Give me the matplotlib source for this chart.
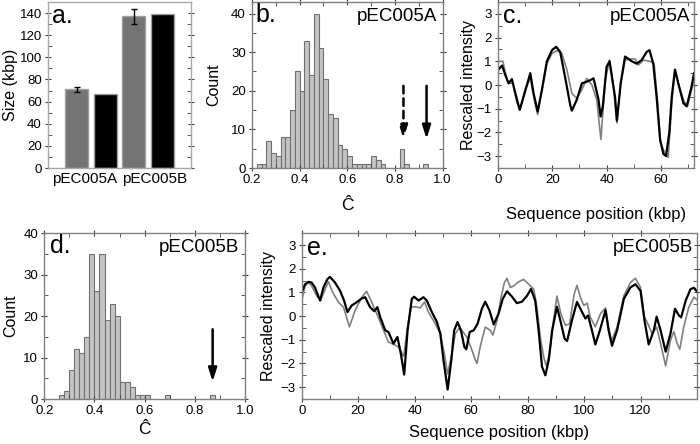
import matplotlib
matplotlib.use('Agg')
import matplotlib.pyplot as plt
from matplotlib.ticker import MultipleLocator

plt.rcParams['font.family'] = ['Liberation Sans', 'DejaVu Sans']

# panel a: plasmid sizes
plasmids = ['pEC005A', 'pEC005B']
size_measured = [71, 137]
size_err = [2, 7]
size_sequence = [67, 139]

# panel b: histogram of C-hat for pEC005A (bin centres, counts)
b_centres = [0.23, 0.25, 0.27, 0.29, 0.31, 0.33, 0.35, 0.37, 0.39, 0.41, 0.43, 0.45,
             0.47, 0.49, 0.51, 0.53, 0.55, 0.57, 0.59, 0.61, 0.63, 0.65, 0.67, 0.69,
             0.71, 0.73, 0.75, 0.83, 0.85, 0.93]
b_counts = [1, 1, 7, 4, 3, 8, 8, 15, 25, 20, 33, 24,
            40, 31, 23, 14, 13, 6, 5, 3, 1, 1, 1, 1,
            3, 2, 1, 5, 1, 1]

# panel d: histogram of C-hat for pEC005B
d_centres = [0.27, 0.29, 0.31, 0.33, 0.35, 0.37, 0.39, 0.41, 0.43, 0.45, 0.47, 0.49,
             0.51, 0.53, 0.55, 0.57, 0.59, 0.61, 0.69, 0.87]
d_counts = [1, 2, 7, 12, 11, 15, 35, 26, 35, 19, 23, 20,
            4, 4, 3, 1, 1, 1, 1, 1]

# panel c: profiles pEC005A
c_black_x = [0, 1.5, 2.7, 3.9, 5.1, 6.4, 8, 9.4, 11.9, 13.1, 14.6, 16.2, 18, 19.9, 21.4,
             22.9, 24.8, 26.6, 27.2, 29, 30.9, 32.7, 33.9, 35.2, 37, 37.8, 38.6, 40, 41.1,
             43.1, 43.8, 45.2, 46.8, 49.3, 51.1, 52.9, 54.8, 55.8, 57.2, 58.5, 59.7, 60.9,
             61.9, 63.1, 64, 65.2, 66.4, 68.3, 69.5, 71.3, 72.2]
c_black_y = [0.63, 0.82, 0.42, 0.07, 0.25, -0.35, -1.05, -0.5, 0.5, -0.35, -1.12, -0.2,
             1.0, 1.47, 1.61, 1.4, 0.28, -0.84, -1.08, -0.63, 0.07, 0.14, 0.2, 0.28, -0.6,
             -1.33, -0.9, 0.77, 1.0, -0.5, -1.5, 0.07, 1.2, 1.0, 0.9, 1.05, 1.4, 1.47, 0.9,
             -0.6, -2.3, -2.9, -3.0, -2.0, -0.5, 0.65, 0.07, -0.77, -0.9, -0.07, 0.5]
c_gray_x = [0, 1.8, 3.3, 4.3, 5.5, 7, 8.2, 10, 11.9, 13.4, 14.6, 16.2, 18, 19.9, 21.7,
            23.5, 25.4, 27.2, 29, 30.9, 32.7, 34.6, 36.4, 37.9, 39.5, 41.1, 42.5, 43.8,
            45.2, 46.8, 48.7, 50.5, 51.7, 53.6, 56, 57.5, 58.7, 59.9, 61.5, 62.7, 64,
            65.2, 66.4, 68.3, 69.8, 71.3, 72.2]
c_gray_y = [1.0, 1.0, 0.2, 0.07, 0.07, -0.77, -1.0, -0.2, 0.28, -0.63, -1.25, -0.15,
            0.9, 1.33, 1.45, 1.33, 0.63, -0.35, -0.56, -0.2, 0.28, 0.0, -0.63, -2.3,
            0.2, 1.05, -0.07, -1.6, 0.07, 1.05, 1.1, 1.1, 0.84, 1.05, 1.0, 0.9, -0.6,
            -2.45, -2.87, -3.05, -0.77, 0.63, 0.07, -0.63, -0.9, -0.2, 0.2]

# panel e: profiles pEC005B
e_black_x = [0, 1.2, 2.4, 3.5, 4.7, 6.5, 7.7, 9.1, 10, 11.8, 13.6, 15, 16.2, 17.7, 19.5,
             21.3, 22.5, 24.2, 25.7, 26.8, 27.8, 29.6, 30.7, 32.5, 33.9, 35.1, 36.3, 37.5,
             39, 39.8, 41.4, 43.1, 44.3, 46.1, 47.9, 49.1, 50.2, 51.7, 53, 54, 55.2, 56.4,
             57.6, 58.3, 59.5, 60.9, 62.3, 63.8, 65, 66.5, 68, 69.7, 71.2, 72.7, 74.5,
             76.2, 78, 79.8, 81.2, 82.7, 83.9, 85.1, 86.3, 87.5, 88.7, 90.4, 91.6, 93.1,
             94, 95.7, 97.5, 99.3, 100.5, 101.4, 102.8, 104, 105.6, 107.6, 108.7, 109.9,
             111.7, 114.1, 116.4, 118.2, 120, 121.4, 122.9, 124.7, 125.7, 127.1, 128.9,
             130.6, 132.2, 133.6, 134.4, 136, 137.7, 138.9, 140.3]
e_black_y = [1.0, 1.35, 1.45, 1.42, 1.21, 0.66, 1.21, 1.56, 1.66, 1.42, 1.07, 0.66,
             0.17, 0.45, 0.59, 0.75, 0.8, 0.38, 0.21, 0.38, -0.04, -0.6, -0.67, -1.16,
             -0.88, -1.58, -2.47, -0.6, 0.73, 0.82, 0.66, 0.8, 0.66, 0.17, -0.25, -0.74,
             -1.85, -3.1, -1.85, -0.6, -0.25, -0.6, -1.3, -1.4, -0.67, -0.6, -0.32, 0.31,
             0.61, 0.24, -0.35, 0.1, 0.73, 1.05, 0.82, 0.55, 0.61, 0.86, 1.15, 0.66, -0.6,
             -2.13, -2.5, -1.85, -0.6, 0.4, -0.18, -0.95, -1.05, -0.18, 0.6, 0.17, -0.1,
             0.03, -0.6, -1.2, -0.6, 0.25, -0.6, -1.25, -0.6, 0.73, 1.21, 1.35, 1.07,
             -0.18, -1.2, -0.6, -0.02, -0.6, -1.5, -0.74, 0.31, 0.03, -0.05, 0.66, 1.14,
             1.2, 1.0]
e_gray_x = [0, 1.2, 2.4, 3.5, 5.3, 6.7, 8.3, 9.5, 11, 13, 14.8, 16.9, 18.9, 21.3, 23,
            24.8, 26.6, 29, 30.7, 32.5, 34.3, 36.1, 37.5, 38.7, 40.2, 42, 43.5, 44.9,
            47.3, 49.1, 50.5, 51.7, 53.2, 54.4, 55.6, 56.7, 58.5, 60.3, 61.5, 62.1, 63.2,
            65, 66.8, 67.7, 69.2, 70.6, 71.8, 72.7, 73.9, 75.1, 76.8, 78.6, 80.4, 82.2,
            83.3, 84.5, 85.7, 86.6, 87.8, 89.2, 90.4, 91.8, 93.4, 94.9, 96.5, 97.5, 98.7,
            99.9, 101.1, 102.2, 104, 105.8, 107.6, 108.7, 109.7, 111.7, 114.1, 116.4,
            118.2, 120, 121.4, 122.6, 124.1, 125.7, 127.1, 128.9, 130.6, 131.8, 133,
            133.9, 135.3, 137.1, 138.9, 140.3]
e_gray_y = [0.66, 1.28, 1.42, 1.28, 0.86, 0.66, 1.14, 1.45, 1.0, 0.59, 0.38, -0.45,
            0.24, 0.8, 1.05, 0.59, 0.1, -0.6, -1.09, -1.19, -1.3, -1.7, -0.46, 0.38, 0.4,
            0.35, 0.6, 0.17, -0.32, -0.74, -1.58, -2.45, -1.58, -0.74, -0.53, -0.6,
            -0.88, -1.44, -1.85, -2.0, -1.3, -0.46, -0.6, -0.8, -0.18, 0.8, 1.42, 1.6,
            1.21, 1.28, 1.45, 1.55, 1.35, 1.14, 0.38, -0.88, -1.72, -2.1, -1.58, -0.18,
            0.85, 0.1, -0.39, -0.32, 0.93, 1.3, 0.8, 0.45, 0.55, -0.04, -0.45, 0.1, 0.35,
            -0.46, -1.05, -0.46, 0.86, 1.42, 1.6, 1.21, -0.04, -0.32, -0.74, -0.46, -1.16,
            -2.1, -1.02, -0.65, -1.16, -1.4, -0.46, 0.38, 0.8, 0.66]

W, H = 700, 444
TICK = 9.5
LAB = 11.5
PANEL = 18
NAME = 13.5


def box(l, r, t, b):
    return [l / W, 1 - b / H, (r - l) / W, (b - t) / H]


def style(ax, spine='#808080'):
    for s in ax.spines.values():
        s.set_color(spine)
        s.set_linewidth(1.0)
    ax.tick_params(which='both', top=True, right=True, labelsize=TICK, color='#404040', pad=2)
    ax.tick_params(which='major', direction='inout', length=5)
    ax.tick_params(which='minor', direction='in', length=3)


def place_labels(ax, w, h, ylab_dx, xlab_dy=None):
    # offsets in pixels from the axes edges
    ax.yaxis.set_label_coords(-ylab_dx / w, 0.5)
    if xlab_dy is not None:
        ax.xaxis.set_label_coords(0.5, -xlab_dy / h)


fig = plt.figure(figsize=(7, 4.44), dpi=100)

# a
ax = fig.add_axes(box(48, 191, 2, 168))
pos = [1, 3]
ax.bar(pos, size_measured, width=0.8, color='#747474', edgecolor='#a0a0a0',
       yerr=size_err, capsize=2, error_kw={'elinewidth': 1, 'ecolor': 'black'})
ax.bar([p + 1 for p in pos], size_sequence, width=0.8, color='black', edgecolor='#a0a0a0')
ax.set_xlim(0, 5)
ax.set_ylim(0, 150)
ax.set_xticks([1.28, 3.72])
ax.set_xticklabels(plasmids)
ax.yaxis.set_major_locator(MultipleLocator(20))
ax.yaxis.set_minor_locator(MultipleLocator(10))
style(ax, '#a8a8a8')
ax.tick_params(axis='x', length=0, pad=3, labelsize=11)
ax.set_ylabel('Size (kbp)', fontsize=LAB)
place_labels(ax, 143, 166, 30)
ax.text(0.03, 0.985, 'a.', transform=ax.transAxes, fontsize=PANEL, va='top', ha='left')

# b
ax = fig.add_axes(box(252, 442.5, 2, 168))
ax.bar(b_centres, b_counts, width=0.02, color='#c4c4c4', edgecolor='#707070', linewidth=0.8)
ax.set_xlim(0.2, 1.0)
ax.set_ylim(0, 43)
ax.xaxis.set_major_locator(MultipleLocator(0.2))
ax.xaxis.set_minor_locator(MultipleLocator(0.1))
ax.yaxis.set_major_locator(MultipleLocator(10))
ax.yaxis.set_minor_locator(MultipleLocator(5))
style(ax)
ax.set_xlabel('Ĉ', fontsize=LAB + 1)
ax.set_ylabel('Count', fontsize=LAB)
place_labels(ax, 190.5, 166, 31, 30)
ax.text(0.02, 0.995, 'b.', transform=ax.transAxes, fontsize=PANEL, va='top', ha='left')
ax.text(0.97, 0.965, 'pEC005A', transform=ax.transAxes, fontsize=NAME, va='top', ha='right')
ax.annotate('', xy=(0.836, 6.8), xytext=(0.836, 22),
            arrowprops=dict(arrowstyle='-|>,head_length=0.8,head_width=0.25', lw=1.8,
                            ls=(0, (3, 2)), color='black'))
ax.annotate('', xy=(0.933, 6.8), xytext=(0.933, 22),
            arrowprops=dict(arrowstyle='-|>,head_length=0.8,head_width=0.25', lw=1.8,
                            color='black'))

# c
ax = fig.add_axes(box(498, 694, 2, 168))
ax.plot(c_gray_x, c_gray_y, color='#808080', lw=1.2, solid_joinstyle='round')
ax.plot(c_black_x, c_black_y, color='black', lw=1.6, solid_joinstyle='round')
ax.set_xlim(0, 72.2)
ax.set_ylim(-3.5, 3.5)
ax.xaxis.set_major_locator(MultipleLocator(20))
ax.xaxis.set_minor_locator(MultipleLocator(10))
ax.yaxis.set_major_locator(MultipleLocator(1))
ax.yaxis.set_minor_locator(MultipleLocator(0.5))
style(ax)
ax.set_xlabel('Sequence position (kbp)', fontsize=LAB + 0.5)
ax.set_ylabel('Rescaled intensity', fontsize=LAB)
place_labels(ax, 196, 166, 22, 39)
ax.text(0.025, 0.985, 'c.', transform=ax.transAxes, fontsize=PANEL, va='top', ha='left')
ax.text(0.98, 0.965, 'pEC005A', transform=ax.transAxes, fontsize=NAME, va='top', ha='right')

# d
ax = fig.add_axes(box(44.3, 245, 233.3, 399))
ax.bar(d_centres, d_counts, width=0.02, color='#c4c4c4', edgecolor='#707070', linewidth=0.8)
ax.set_xlim(0.2, 1.0)
ax.set_ylim(0, 40)
ax.xaxis.set_major_locator(MultipleLocator(0.2))
ax.xaxis.set_minor_locator(MultipleLocator(0.1))
ax.yaxis.set_major_locator(MultipleLocator(10))
ax.yaxis.set_minor_locator(MultipleLocator(5))
style(ax)
ax.set_xlabel('Ĉ', fontsize=LAB + 1)
ax.set_ylabel('Count', fontsize=LAB)
place_labels(ax, 200.7, 165.7, 26, 23)
ax.text(0.03, 0.995, 'd.', transform=ax.transAxes, fontsize=PANEL, va='top', ha='left')
ax.text(0.97, 0.965, 'pEC005B', transform=ax.transAxes, fontsize=NAME, va='top', ha='right')
ax.annotate('', xy=(0.871, 3.5), xytext=(0.871, 17.5),
            arrowprops=dict(arrowstyle='-|>,head_length=0.8,head_width=0.25', lw=1.8,
                            color='black'))

# e
ax = fig.add_axes(box(301.7, 697, 233.3, 399))
ax.plot(e_gray_x, e_gray_y, color='#808080', lw=1.2, solid_joinstyle='round')
ax.plot(e_black_x, e_black_y, color='black', lw=1.6, solid_joinstyle='round')
ax.set_xlim(0, 140)
ax.set_ylim(-3.5, 3.5)
ax.set_xticks([0, 20, 40, 60, 80, 100, 120])
ax.xaxis.set_minor_locator(MultipleLocator(10))
ax.yaxis.set_major_locator(MultipleLocator(1))
ax.yaxis.set_minor_locator(MultipleLocator(0.5))
style(ax)
ax.set_xlabel('Sequence position (kbp)', fontsize=LAB + 0.5)
ax.set_ylabel('Rescaled intensity', fontsize=LAB)
place_labels(ax, 395.3, 165.7, 26, 26)
ax.text(0.013, 0.985, 'e.', transform=ax.transAxes, fontsize=PANEL, va='top', ha='left')
ax.text(0.99, 0.965, 'pEC005B', transform=ax.transAxes, fontsize=NAME, va='top', ha='right')

fig.savefig('out.png', dpi=100)
